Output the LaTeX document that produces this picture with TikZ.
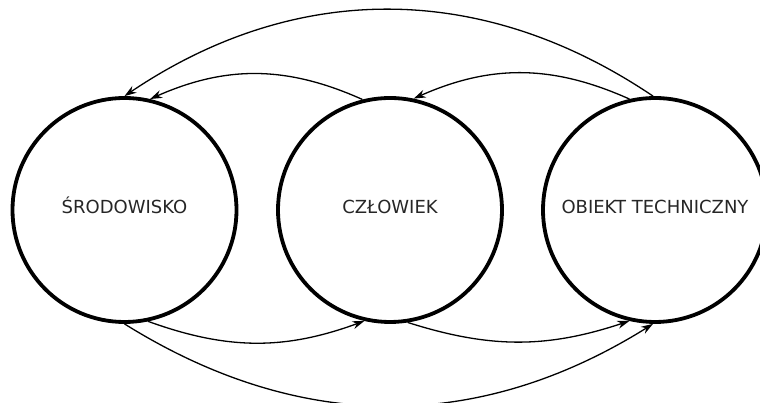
\documentclass[tikz,border=0pt]{standalone}
\usepackage{fontspec}
\setsansfont{DejaVu Sans}
\usetikzlibrary{arrows.meta}

\begin{document}
\begin{tikzpicture}[x=1pt,y=1pt,
  area/.style={draw, circle, line width=3.8pt, minimum size=224pt, inner sep=0pt,
    font=\sffamily\fontsize{18}{20}\selectfont, text=black!85, text height=13pt, text depth=5pt},
  flow/.style={->, line width=1.3pt},
  >={Stealth[length=12pt,width=8pt]}]
  \useasboundingbox (0,0) rectangle (760,403);
  \node[area] (sr) at (124.5,193) {ŚRODOWISKO};
  \node[area] (cz) at (390,193) {CZŁOWIEK};
  \node[area] (ob) at (655,193) {OBIEKT TECHNICZNY};
  % upper arcs
  \draw[flow] (cz.104) to[bend right=24] (sr.77);
  \draw[flow] (ob.103) to[bend right=24] (cz.78);
  \draw[flow] (ob.91) to[bend right=34] (sr.90);
  % lower arcs
  \draw[flow] (sr.-78) to[bend right=20] (cz.-103);
  \draw[flow] (cz.-81) to[bend right=18] (ob.-103);
  \draw[flow] (sr.-90) to[bend right=32] (ob.-91);
\end{tikzpicture}
\end{document}
